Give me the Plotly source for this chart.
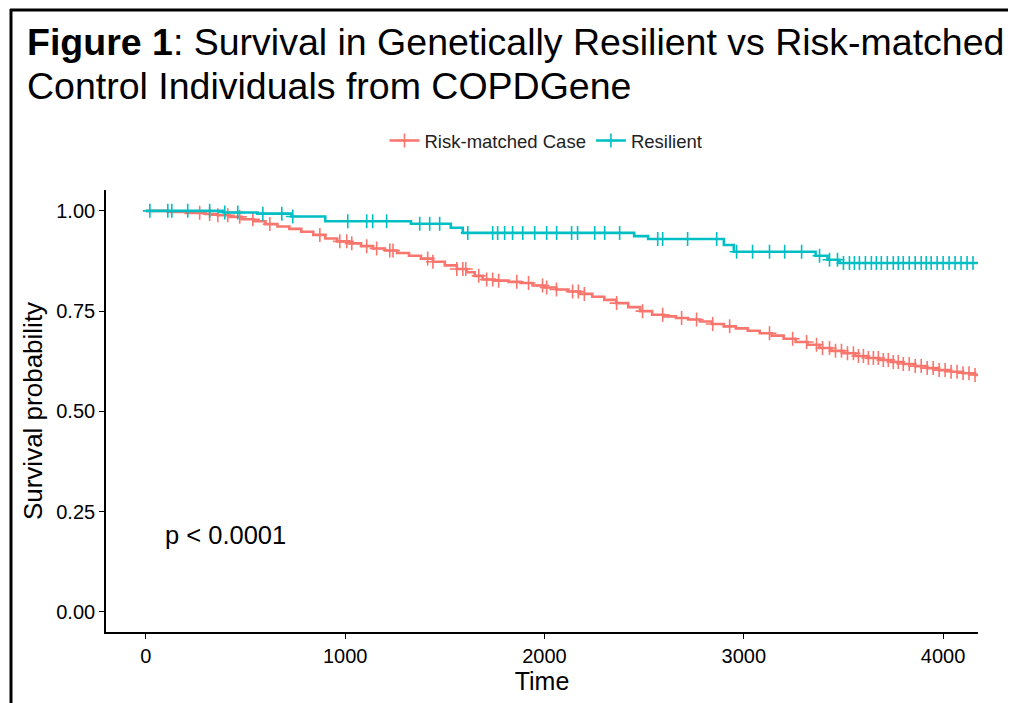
import numpy as np
import plotly.graph_objects as go

# ---- data ----
case_time = [0, 110, 200, 300, 360, 420, 480, 540, 600, 660, 720, 780, 840, 900, 960,
             1020, 1080, 1140, 1200, 1260, 1320, 1380, 1440, 1500, 1560, 1610, 1650, 1690,
             1750, 1820, 1880, 1940, 2000, 2060, 2120, 2180, 2240, 2300, 2360, 2420, 2480,
             2540, 2600, 2660, 2720, 2780, 2840, 2900, 2960, 3020, 3080, 3140, 3200, 3260,
             3320, 3380, 3440, 3500, 3560, 3620, 3680, 3740, 3800, 3860, 3920, 3980, 4040,
             4100, 4160, 4175]
case_surv = [1.000, 0.997, 0.995, 0.992, 0.989, 0.985, 0.979, 0.974, 0.967, 0.961, 0.955,
             0.948, 0.940, 0.931, 0.924, 0.919, 0.912, 0.906, 0.901, 0.895, 0.888, 0.881,
             0.873, 0.864, 0.855, 0.847, 0.838, 0.829, 0.826, 0.823, 0.820, 0.814, 0.809,
             0.804, 0.799, 0.793, 0.786, 0.778, 0.770, 0.760, 0.750, 0.741, 0.737, 0.733,
             0.729, 0.724, 0.718, 0.712, 0.707, 0.701, 0.695, 0.689, 0.681, 0.673, 0.666,
             0.658, 0.651, 0.645, 0.638, 0.633, 0.628, 0.623, 0.618, 0.613, 0.608, 0.603,
             0.599, 0.595, 0.591, 0.591]
case_censor = [270, 320, 361, 411, 471, 537, 622, 873, 973, 1008, 1033, 1108, 1158, 1224,
               1240, 1414, 1440, 1560, 1590, 1605, 1670, 1710, 1740, 1770, 1861, 1920, 1990,
               2011, 2060, 2141, 2170, 2200, 2362, 2492, 2593, 2688, 2763, 2844, 2929, 3129,
               3245, 3315, 3365, 3395, 3430, 3460, 3490, 3520, 3550, 3575, 3600, 3625, 3650,
               3675, 3700, 3725, 3750, 3775, 3800, 3830, 3860, 3890, 3920, 3950, 3980, 4010,
               4040, 4070, 4100, 4130, 4160]

res_time = [0, 390, 560, 730, 900, 1330, 1530, 1590, 2450, 2520, 2900, 2950, 3360, 3420,
            3480, 4175]
res_surv = [1.000, 0.996, 0.993, 0.986, 0.974, 0.968, 0.958, 0.945, 0.937, 0.930, 0.915,
            0.898, 0.888, 0.878, 0.870, 0.870]
res_censor = [20, 110, 130, 210, 320, 396, 461, 587, 682, 737, 1013, 1108, 1138, 1208,
              1374, 1424, 1474, 1615, 1740, 1765, 1800, 1840, 1891, 1951, 2011, 2061, 2136,
              2166, 2252, 2302, 2377, 2568, 2593, 2718, 2864, 2964, 3044, 3129, 3205, 3290,
              3380, 3430, 3470, 3500, 3530, 3555, 3580, 3610, 3640, 3665, 3690, 3720, 3750,
              3775, 3800, 3830, 3860, 3890, 3915, 3940, 3970, 4000, 4030, 4060, 4090, 4120,
              4150]

group_names = ["Risk-matched Case", "Resilient"]
group_colors = ["#F8766D", "#00BFC4"]
x_ticks = [0, 1000, 2000, 3000, 4000]
y_ticks = [0.0, 0.25, 0.5, 0.75, 1.0]
y_tick_text = ["0.00", "0.25", "0.50", "0.75", "1.00"]

FONT = "Liberation Sans, Arial, Helvetica, sans-serif"


def step_value(times, surv, t):
    idx = np.searchsorted(np.array(times), np.array(t), side="right") - 1
    return np.array(surv)[idx]


fig = go.Figure()
for name, color, t, s, c in [
    (group_names[0], group_colors[0], case_time, case_surv, case_censor),
    (group_names[1], group_colors[1], res_time, res_surv, res_censor),
]:
    fig.add_trace(go.Scatter(
        x=t, y=s, mode="lines", line=dict(color=color, width=2.6, shape="hv"),
        name=name, legendgroup=name, showlegend=False, hoverinfo="skip"))
    fig.add_trace(go.Scatter(
        x=c, y=step_value(t, s, c), mode="markers",
        marker=dict(symbol="cross-thin", size=10, line=dict(color=color, width=1.6)),
        name=name, legendgroup=name, showlegend=False, hoverinfo="skip"))
    # legend entry
    fig.add_trace(go.Scatter(
        x=[None], y=[None], mode="lines+markers",
        line=dict(color=color, width=2.6),
        marker=dict(symbol="cross-thin", size=10, line=dict(color=color, width=1.6)),
        name=name, legendgroup=name, showlegend=True))

# page body has an 8px margin, so the figure is offset by 8px
OFF = 8
W, H = 1016 - OFF, 703 - OFF
L, R, T, B = 106 - OFF, 38, 190 - OFF, 71
pw, ph = W - L - R, H - T - B


def px(xs):
    # screen x pixel -> paper coordinate
    return (xs - OFF - L) / pw


def py(ys):
    # screen y pixel -> paper coordinate
    return (OFF + T + ph - ys) / ph


fig.update_layout(
    width=W, height=H,
    margin=dict(l=L, r=R, t=T, b=B, autoexpand=False),
    paper_bgcolor="white", plot_bgcolor="white",
    font=dict(family=FONT, color="black"),
    showlegend=True,
    legend=dict(orientation="h", x=px(546), xanchor="center", y=py(141), yanchor="middle",
                font=dict(size=18.5, color="#222222"), bgcolor="rgba(0,0,0,0)",
                itemwidth=30, tracegroupgap=0),
    xaxis=dict(range=[-200, 4175], tickvals=x_ticks, ticks="outside", ticklen=5,
               tickwidth=1.3, tickcolor="black", showline=True, linecolor="black",
               linewidth=1.6, showgrid=False, zeroline=False,
               tickfont=dict(size=20, color="black"),
               title=dict(text="Time", font=dict(size=25, color="black"), standoff=4)),
    yaxis=dict(range=[-0.05, 1.052], tickvals=y_ticks, ticktext=y_tick_text,
               ticks="outside", ticklen=5, tickwidth=1.3, tickcolor="black",
               showline=True, linecolor="black", linewidth=1.6, showgrid=False,
               zeroline=False, tickfont=dict(size=20, color="black"),
               title=dict(text="Survival probability", font=dict(size=26, color="black"),
                          standoff=6)),
)

fig.add_annotation(x=85, y=0.192, xref="x", yref="y", text="p < 0.0001",
                   showarrow=False, xanchor="left", yanchor="middle",
                   font=dict(size=25.5, color="black"))

fig.add_annotation(x=px(25), y=py(42), xref="paper", yref="paper",
                   text="<b>Figure 1</b>: Survival in Genetically Resilient vs Risk-matched",
                   showarrow=False, xanchor="left", yanchor="middle",
                   font=dict(size=37.5, color="black"))
fig.add_annotation(x=px(25), y=py(86), xref="paper", yref="paper",
                   text="Control Individuals from COPDGene",
                   showarrow=False, xanchor="left", yanchor="middle",
                   font=dict(size=37.5, color="black"))

# outer frame of the figure panel (left and top edges)
fig.add_shape(type="line", xref="paper", yref="paper", x0=px(11), x1=px(11),
              y0=py(703), y1=py(9), line=dict(color="black", width=3))
fig.add_shape(type="line", xref="paper", yref="paper", x0=px(10), x1=px(1016),
              y0=py(10), y1=py(10), line=dict(color="black", width=3))

fig.write_html("out.html")
